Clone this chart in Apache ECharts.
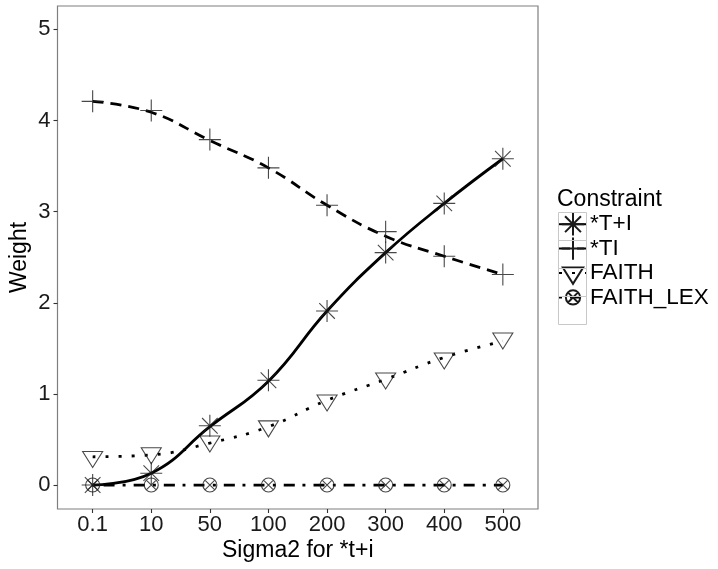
<!DOCTYPE html>
<html><head><meta charset="utf-8">
<script src="https://cdn.jsdelivr.net/npm/echarts@6/dist/echarts.min.js"></script>
<style>html,body{margin:0;padding:0;background:#fff}#c{width:718px;height:569px}</style>
</head><body><div id="c"></div>
<script>
// ---- data ----
const categories = ['0.1', '10', '50', '100', '200', '300', '400', '500'];
const constraints = ['*T+I', '*TI', 'FAITH', 'FAITH_LEX'];
const yTicks = [0, 1, 2, 3, 4, 5];

// observed points
const tPlusIPoints   = [0.00, 0.13, 0.65, 1.15, 1.91, 2.55, 3.09, 3.58];
const tiPoints       = [4.21, 4.11, 3.79, 3.48, 3.07, 2.78, 2.51, 2.31];
const faithPoints    = [0.31, 0.35, 0.48, 0.645, 0.93, 1.17, 1.39, 1.61];
const faithLexPoints = [0, 0, 0, 0, 0, 0, 0, 0];

// smoothed curves (as drawn)
const tPlusIFit   = [0.00, 0.13, 0.64, 1.14, 1.91, 2.55, 3.09, 3.58];
const tiFit       = [4.21, 4.09, 3.78, 3.48, 3.07, 2.73, 2.51, 2.31];
const faithFit    = [0.31, 0.33, 0.46, 0.64, 0.93, 1.16, 1.40, 1.58];
const faithLexFit = [0, 0, 0, 0, 0, 0, 0, 0];

// ---- styling ----
const FONT = 'Liberation Sans, Arial, sans-serif';
// every symbol lives in a 22x22 box (corner markers fix the box)
const BOX = 'M0 0L0 0M22 22L22 22';
const SYM = {
  asterisk: 'path://' + BOX + 'M0 11L22 11M11 0L11 22M3.2 3.2L18.8 18.8M3.2 18.8L18.8 3.2',
  plus: 'path://' + BOX + 'M0 11L22 11M11 0L11 22',
  triDown: 'path://' + BOX + 'M1 5.67L21 5.67L11 21.67Z',
  circleX: 'path://' + BOX + 'M18 11A7 7 0 1 1 4 11A7 7 0 1 1 18 11ZM6.05 6.05L15.95 15.95M6.05 15.95L15.95 6.05'
};
const styles = [
  {sym: SYM.asterisk, line: {type: 'solid'}},
  {sym: SYM.plus, line: {type: [11, 7]}},
  {sym: SYM.triDown, line: {type: [3, 10]}},
  {sym: SYM.circleX, line: {type: [3, 8, 11, 8]}}
];
const pointSets = [tPlusIPoints, tiPoints, faithPoints, faithLexPoints];
const fitSets = [tPlusIFit, tiFit, faithFit, faithLexFit];
const symItem = {color: 'rgba(0,0,0,0)', borderColor: '#1a1a1a', borderWidth: 1.1};

const series = [];
constraints.forEach((name, i) => {
  const st = styles[i];
  series.push({
    name, type: 'line', smooth: 0.45, showSymbol: false,
    symbol: st.sym, symbolSize: 22,
    data: fitSets[i].map((v, k) => [k, v]),
    lineStyle: {color: '#000', width: 2.8, type: st.line.type, cap: 'butt'},
    itemStyle: symItem, z: 2, silent: true
  });
});
constraints.forEach((name, i) => {
  const st = styles[i];
  series.push({
    name, type: 'scatter',
    symbol: st.sym, symbolSize: 22,
    data: pointSets[i].map((v, k) => [k, v]),
    itemStyle: symItem, z: 3, silent: true
  });
});

const legendLeft = 558, legendTop = 212, legendItem = 28;
const graphicBoxes = constraints.map((n, i) => ({
  type: 'rect', x: legendLeft + 0.5, y: legendTop + i * legendItem + 0.5, z: 100,
  shape: {x: 0, y: 0, width: legendItem, height: legendItem},
  style: {fill: 'none', stroke: '#c8c8c8', lineWidth: 1}
}));

const chart = echarts.init(document.getElementById('c'), null, {renderer: 'canvas'});
chart.setOption({
  animation: false,
  backgroundColor: '#fff',
  textStyle: {fontFamily: FONT},
  title: {text: 'Constraint', left: 557, top: 188, padding: 0,
    textStyle: {fontFamily: FONT, fontSize: 23, fontWeight: 'normal', color: '#000'}},
  legend: {
    data: constraints, orient: 'vertical', left: legendLeft, top: legendTop,
    itemWidth: legendItem, itemHeight: legendItem, itemGap: 0, padding: 0,
    textStyle: {fontFamily: FONT, fontSize: 22.5, color: '#000', padding: [0, 0, 0, -2]},
    selectedMode: false
  },
  grid: {left: 57.5, right: 180, top: 6, bottom: 60, show: true,
    borderColor: '#7f7f7f', borderWidth: 1.2, backgroundColor: '#fff',
    containLabel: false, outerBoundsMode: 'none'},
  xAxis: {
    type: 'value', min: -0.6, max: 7.6, position: 'bottom',
    name: 'Sigma2 for *t+i', nameLocation: 'middle', nameGap: 30, nameMoveOverlap: false,
    nameTextStyle: {fontFamily: FONT, fontSize: 23, color: '#000'},
    axisLine: {show: false, onZero: false},
    axisTick: {show: true, inside: false, length: 4, customValues: categories.map((c, k) => k),
      lineStyle: {color: '#333', width: 1.1}},
    axisLabel: {customValues: categories.map((c, k) => k), formatter: v => categories[Math.round(v)],
      fontFamily: FONT, fontSize: 22, color: '#1a1a1a', margin: 5},
    splitLine: {show: false}
  },
  yAxis: {
    type: 'value', min: -0.263, max: 5.256, position: 'left',
    name: 'Weight', nameLocation: 'middle', nameGap: 26, nameMoveOverlap: false,
    nameTextStyle: {fontFamily: FONT, fontSize: 23, color: '#000'},
    axisLine: {show: false, onZero: false},
    axisTick: {show: true, inside: false, length: 4, customValues: yTicks,
      lineStyle: {color: '#333', width: 1.1}},
    axisLabel: {customValues: yTicks, formatter: v => String(v),
      fontFamily: FONT, fontSize: 22, color: '#1a1a1a', margin: 7},
    splitLine: {show: false}
  },
  graphic: {elements: graphicBoxes},
  series
});
</script></body></html>
